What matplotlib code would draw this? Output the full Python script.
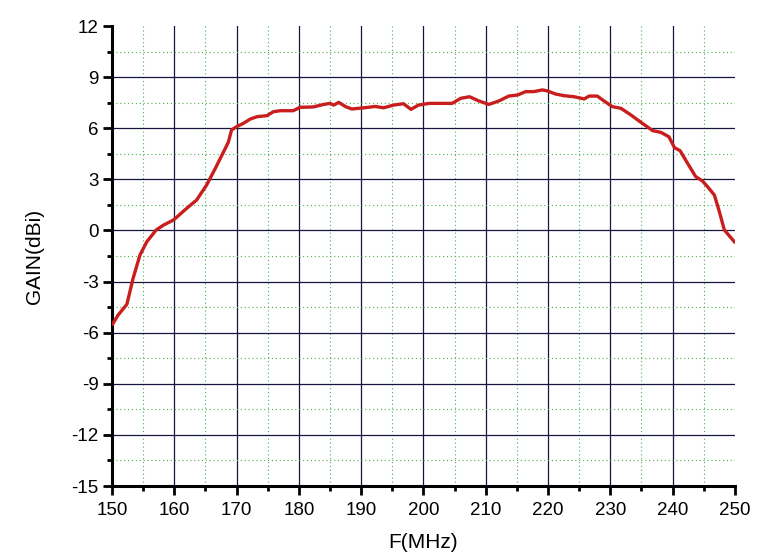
import matplotlib
matplotlib.use("Agg")
import matplotlib.pyplot as plt
import numpy as np

plt.rcParams['font.family'] = ['Liberation Sans', 'DejaVu Sans']
plt.rcParams['axes.unicode_minus'] = False

# gain curve
freq = [150.1, 151.0, 152.4, 153.4, 154.5, 155.6, 157.1, 158.3, 159.9, 162.0,
        163.6, 165.2, 166.6, 168.2, 168.7, 169.2, 170.0, 171.1, 172.2, 173.3,
        174.9, 175.9, 177.0, 179.1, 180.2, 182.3, 184.0, 185.0, 185.6, 186.4,
        187.5, 188.5, 190.4, 192.3, 193.6, 195.2, 196.8, 198.0, 199.2, 200.9,
        202.7, 204.6, 206.0, 207.4, 208.9, 210.5, 212.1, 213.7, 215.1, 216.4,
        217.7, 219.1, 219.9, 221.2, 222.6, 224.2, 225.8, 226.6, 227.9, 229.0,
        230.3, 231.7, 233.3, 234.9, 236.8, 238.1, 239.4, 240.3, 241.2, 242.4,
        243.7, 244.8, 245.6, 246.7, 247.5, 248.3, 249.9]
gain = [-5.5, -4.96, -4.33, -2.8, -1.44, -0.66, 0.03, 0.32, 0.62, 1.3,
        1.79, 2.67, 3.65, 4.82, 5.2, 5.9, 6.09, 6.29, 6.54, 6.68,
        6.74, 6.97, 7.03, 7.03, 7.23, 7.25, 7.4, 7.46, 7.36, 7.52,
        7.27, 7.13, 7.2, 7.28, 7.2, 7.36, 7.44, 7.11, 7.36, 7.46,
        7.46, 7.46, 7.76, 7.85, 7.6, 7.4, 7.6, 7.89, 7.95, 8.15,
        8.15, 8.25, 8.19, 8.01, 7.91, 7.85, 7.72, 7.89, 7.89, 7.6,
        7.27, 7.17, 6.78, 6.35, 5.86, 5.76, 5.5, 4.86, 4.68, 3.94,
        3.16, 2.9, 2.57, 2.08, 1.1, 0.03, -0.66]

xticks = np.arange(150, 251, 10)
yticks = np.arange(-15, 13, 3)

fig = plt.figure(figsize=(7.72, 5.54), dpi=100)
ax = fig.add_axes([0.145, 0.1227, 0.807, 0.8303])

ax.plot(freq, gain, color='#c81e1e', lw=2.4, zorder=3)

ax.set_xlim(150, 250)
ax.set_ylim(-15, 12)
ax.set_xticks(xticks)
ax.set_yticks(yticks)
ax.set_xticks(np.arange(155, 250, 10), minor=True)
ax.set_yticks(np.arange(-13.5, 12, 3), minor=True)

ax.grid(which='major', color='#15153f', lw=0.9, ls='-')
ax.grid(which='minor', color='#4cb04c', lw=0.8, ls=(0, (1, 2.5)))
# no grid lines on the limits
ax.xaxis.get_gridlines()[-1].set_visible(False)
ax.yaxis.get_gridlines()[-1].set_visible(False)
ax.set_axisbelow(True)

for s in ['top', 'right']:
    ax.spines[s].set_visible(False)
for s in ['left', 'bottom']:
    ax.spines[s].set_linewidth(2.2)

ax.tick_params(which='major', direction='out', length=6.5, width=2, labelsize=13.5)
ax.tick_params(axis='x', which='major', pad=5)
ax.tick_params(axis='y', which='major', pad=3)
ax.tick_params(which='minor', direction='out', length=3.5, width=2)

ax.set_xlabel('F(MHz)', fontsize=15, labelpad=10)
ax.set_ylabel('GAIN(dBi)', fontsize=15, labelpad=20)

fig.savefig('out.png', dpi=100)
